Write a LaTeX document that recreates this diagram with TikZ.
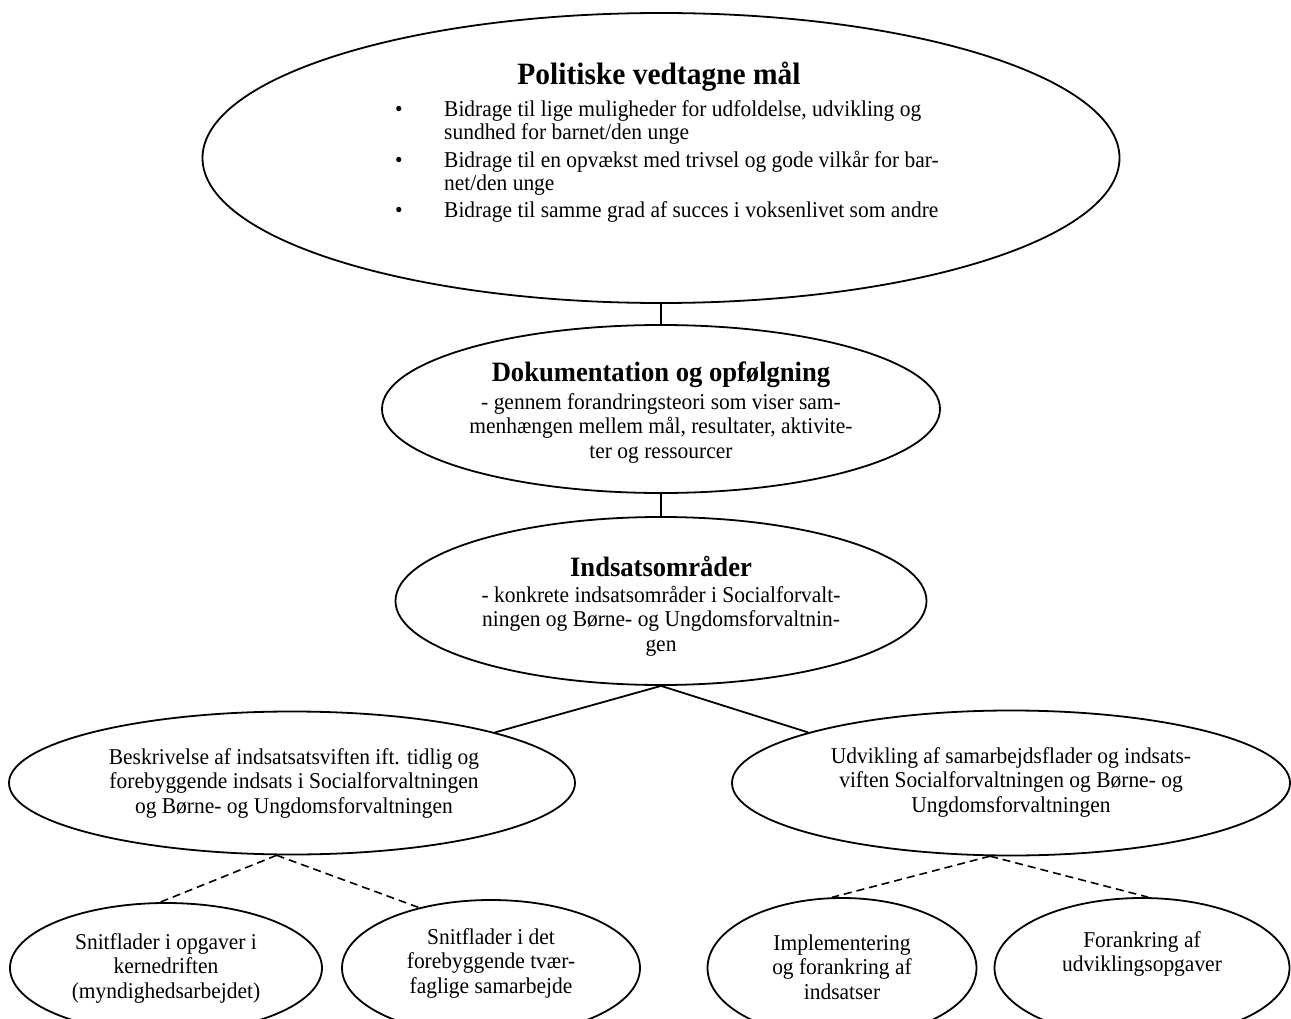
\documentclass[tikz,border=0pt]{standalone}
\usepackage{fontspec}
\setmainfont[FakeStretch=0.95]{Liberation Serif}
\usetikzlibrary{shapes.geometric}
\begin{document}
\begin{tikzpicture}[x=1pt,y=-1pt,
  oval/.style={draw, ellipse, line width=1.8pt, inner sep=0pt},
  txt/.style={align=center, inner sep=0pt, font=\fontsize{22.6}{24.5}\selectfont},
  ttl/.style={inner sep=0pt, font=\fontsize{28}{30}\selectfont\bfseries},
  conn/.style={line width=1.8pt},
  dconn/.style={line width=1.6pt, dash pattern=on 8pt off 5pt}]
\useasboundingbox (0,0) rectangle (1291,1019);
\clip (0,0) rectangle (1291,1019);

% ellipses
\node[oval, minimum width=917pt, minimum height=290pt] (pol) at (661,158) {};
\node[oval, minimum width=558pt, minimum height=168pt] (dok) at (661,409) {};
\node[oval, minimum width=531pt, minimum height=168pt] (ind) at (661,601) {};
\node[oval, minimum width=566pt, minimum height=143pt] (beskr) at (292,783) {};
\node[oval, minimum width=558pt, minimum height=145pt] (udv) at (1011,783) {};
\node[oval, minimum width=312pt, minimum height=130pt] (snit1) at (166,968) {};
\node[oval, minimum width=298pt, minimum height=136pt] (snit2) at (491,968) {};
\node[oval, minimum width=269pt, minimum height=140pt] (impl) at (842,968) {};
\node[oval, minimum width=295pt, minimum height=140pt] (fora) at (1142,968) {};

% texts
\node[inner sep=0pt, font=\fontsize{31}{33}\selectfont\bfseries] (pol-t) at (659,77) {Politiske vedtagne mål};
\node[inner sep=0pt, anchor=base west, font=\fontsize{22.6}{23}\selectfont] (pol-b) at (395,117) {%
\begin{tabular}[t]{@{}p{49pt}@{}l@{}}
\textbullet & Bidrage til lige muligheder for udfoldelse, udvikling og\\
 & sundhed for barnet/den unge\\[4pt]
\textbullet & Bidrage til en opvækst med trivsel og gode vilkår for bar-\\
 & net/den unge\\[4pt]
\textbullet & Bidrage til samme grad af succes i voksenlivet som andre
\end{tabular}};

\node[ttl] (dok-t) at (661,375) {Dokumentation og opfølgning};
\node[txt] (dok-b) at (661,428) {- gennem forandringsteori som viser sam-\\menhængen mellem mål, resultater, aktivite-\\ter og ressourcer};

\node[ttl] (ind-t) at (661,566) {Indsatsområder};
\node[txt] (ind-b) at (661,621) {- konkrete indsatsområder i Socialforvalt-\\ningen og Børne- og Ungdomsforvaltnin-\\gen};

\node[txt] (beskr-t) at (294,783) {Beskrivelse af indsatsatsviften ift. tidlig og\\forebyggende indsats i Socialforvaltningen\\og Børne- og Ungdomsforvaltningen};
\node[txt] (udv-t) at (1011,782) {Udvikling af samarbejdsflader og indsats-\\viften Socialforvaltningen og Børne- og\\Ungdomsforvaltningen};

\node[txt] (snit1-t) at (166,968) {Snitflader i opgaver i\\kernedriften\\(myndighedsarbejdet)};
\node[txt] (snit2-t) at (491,963) {Snitflader i det\\forebyggende tvær-\\faglige samarbejde};
\node[txt] (impl-t) at (842,967) {Implementering\\og forankring af\\indsatser};
\node[txt] (fora-t) at (1142,954) {Forankring af\\udviklingsopgaver};

% connectors
\draw[conn] (pol) -- (dok);
\draw[conn] (dok) -- (ind);
\draw[conn] (ind.south) -- (beskr.14);
\draw[conn] (ind.south) -- (udv.166);
\draw[dconn] (beskr.258) -- (snit1.95);
\draw[dconn] (beskr.258) -- (snit2.140);
\draw[dconn] (udv.254) -- (impl.98);
\draw[dconn] (udv.254) -- (fora.85);
\end{tikzpicture}
\end{document}
